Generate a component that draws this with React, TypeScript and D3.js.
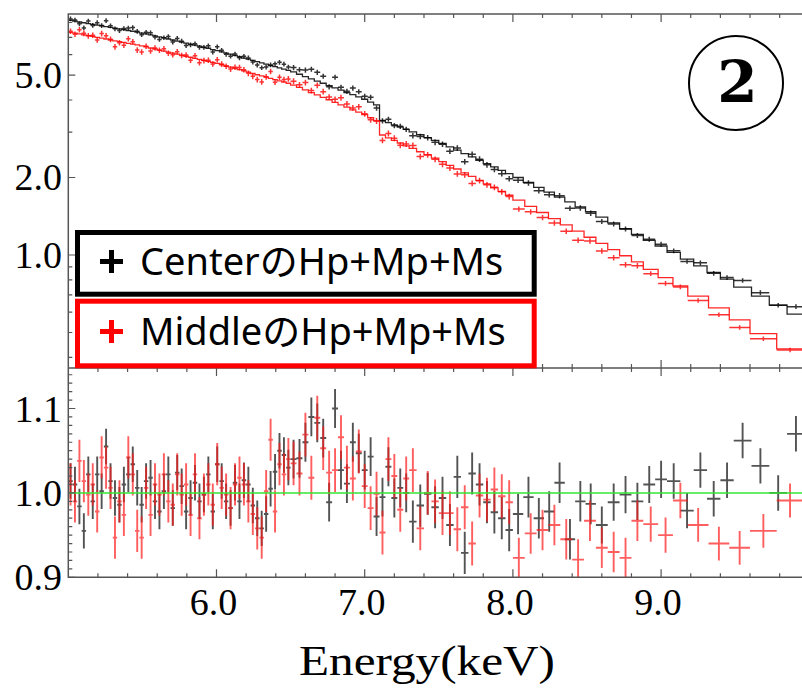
import React from 'react';
import * as d3 from 'd3';

// ---- Binning of the two spectra: [start keV, end keV, bin width keV]
const centerSegments: number[][] = [
  [5.0, 6.5, 0.03], [6.5, 7.3, 0.04], [7.3, 8.0, 0.05], [8.0, 8.56, 0.07],
  [8.56, 9.04, 0.08], [9.04, 9.49, 0.09], [9.49, 9.97, 0.12],
];
const middleSegments: number[][] = [
  [5.0, 6.5, 0.03], [6.5, 7.3, 0.04], [7.3, 8.0, 0.05], [8.0, 8.88, 0.08],
  [8.88, 9.18, 0.1], [9.18, 9.6, 0.14], [9.6, 9.96, 0.18],
];

// relative 1-sigma error per segment
const centerErr = [0.021, 0.023, 0.025, 0.024, 0.022, 0.021, 0.021];
const middleErr = [0.025, 0.026, 0.026, 0.024, 0.021, 0.02, 0.02];

// model (log10 of counts) per bin
const centerModelLog = [
  0.911, 0.908, 0.905, 0.902, 0.899, 0.896, 0.893, 0.890, 0.887, 0.884,
  0.881, 0.878, 0.875, 0.872, 0.869, 0.866, 0.862, 0.859, 0.855, 0.851,
  0.847, 0.843, 0.839, 0.835, 0.831, 0.827, 0.823, 0.819, 0.815, 0.811,
  0.807, 0.803, 0.798, 0.794, 0.789, 0.784, 0.780, 0.775, 0.770, 0.765,
  0.761, 0.756, 0.751, 0.746, 0.741, 0.736, 0.732, 0.727, 0.722, 0.717,
  0.711, 0.702, 0.693, 0.684, 0.675, 0.667, 0.658, 0.649, 0.640, 0.631,
  0.623, 0.614, 0.605, 0.594, 0.583, 0.523, 0.514, 0.505, 0.497, 0.488,
  0.478, 0.467, 0.456, 0.445, 0.433, 0.420, 0.407, 0.394, 0.381, 0.368,
  0.355, 0.342, 0.329, 0.316,
  0.301, 0.282, 0.263, 0.244, 0.225, 0.206, 0.187, 0.168,
  0.147, 0.125, 0.102, 0.080, 0.057, 0.035,
  0.010, -0.016, -0.042, -0.068, -0.094,
  -0.125, -0.160, -0.195, -0.230,
];
const middleModelLog = [
  0.865, 0.862, 0.859, 0.855, 0.852, 0.849, 0.845, 0.842, 0.839, 0.835,
  0.832, 0.829, 0.826, 0.822, 0.819, 0.816, 0.812, 0.808, 0.804, 0.800,
  0.796, 0.792, 0.788, 0.784, 0.780, 0.776, 0.772, 0.768, 0.764, 0.760,
  0.756, 0.752, 0.748, 0.744, 0.739, 0.734, 0.730, 0.725, 0.720, 0.715,
  0.710, 0.705, 0.700, 0.696, 0.691, 0.686, 0.681, 0.676, 0.672, 0.667,
  0.660, 0.651, 0.641, 0.631, 0.622, 0.612, 0.603, 0.593, 0.583, 0.574,
  0.564, 0.555, 0.545, 0.533, 0.521, 0.466, 0.455, 0.445, 0.435, 0.424,
  0.414, 0.401, 0.389, 0.376, 0.363, 0.348, 0.334, 0.319, 0.305, 0.290,
  0.276, 0.261, 0.247, 0.232,
  0.213, 0.189, 0.165, 0.141, 0.117, 0.093, 0.069, 0.045, 0.021, -0.003, -0.027,
  -0.056, -0.088, -0.120,
  -0.160, -0.205, -0.252,
  -0.305, -0.365,
];

// data / model ratio per bin
const centerRatio = [
  1.014, 1.010, 0.984, 0.955, 1.022, 0.990, 1.022, 1.002, 1.055, 1.014,
  0.994, 0.986, 1.010, 1.022, 1.034, 1.006, 0.986, 1.014, 1.018, 0.990,
  0.978, 1.002, 1.022, 0.982, 1.024, 1.008, 0.978, 0.994, 1.012, 0.990,
  0.998, 1.022, 0.978, 1.034, 1.014, 0.990, 0.982,
  1.012, 0.990, 1.015, 1.010, 0.985, 0.970, 0.958, 0.975, 1.005, 1.025, 1.050, 1.045, 1.030,
  1.040, 1.041, 1.060, 1.090, 1.083, 1.065, 0.989, 1.100, 1.027, 1.011,
  1.060, 1.047, 1.027, 1.043, 0.972, 0.995, 1.031, 0.994, 1.006, 1.000,
  0.966, 0.985, 0.999, 0.983, 0.994, 0.962, 1.019, 0.929, 1.023, 1.010, 0.989, 0.977, 0.970, 0.956,
  0.975, 0.995, 0.970, 0.978, 1.012, 0.945, 0.990, 0.987,
  0.962, 0.989, 0.998, 0.990, 1.010, 1.016,
  1.014, 0.979, 1.027, 0.993, 1.015,
  1.062, 1.032, 1.000, 1.070,
];
const middleRatio = [
  1.010, 0.990, 1.038, 1.014, 0.998, 1.010, 0.978, 1.042, 1.030, 1.006,
  0.947, 0.990, 0.974, 1.042, 1.022, 0.955, 0.947, 1.006, 0.974, 1.010,
  0.998, 1.022, 0.990, 0.986, 1.022, 0.998, 1.010, 0.974, 1.022, 0.970,
  0.998, 1.010, 0.986, 1.034, 1.006, 0.998, 0.982,
  1.010, 1.018, 1.010, 0.990, 0.975, 0.958, 0.947, 1.002, 1.063, 0.978, 1.034, 1.022, 1.040,
  1.035, 1.023, 1.069, 1.018, 1.089, 1.053, 1.024, 1.027, 1.066, 1.030,
  1.017, 1.049, 1.008, 0.982, 0.999, 0.953, 1.040, 1.020, 0.980, 1.017,
  1.027, 0.958, 1.000, 0.990, 0.976, 0.976, 0.957, 0.983, 0.940, 0.997, 0.992, 1.004, 0.996, 0.989,
  0.923, 0.952, 0.956, 0.962, 0.945, 0.921, 0.967, 0.935, 0.930, 0.923, 0.967,
  0.963, 0.950, 0.991,
  0.962, 0.940, 0.935,
  0.955, 0.991,
];

const xTickLabels = ['6.0', '7.0', '8.0', '9.0'];
const topTickLabels = ['1.0', '2.0', '5.0'];
const bottomTickLabels = ['0.9', '1.0', '1.1'];
const legendLabels = ['CenterのHp+Mp+Ms', 'MiddleのHp+Mp+Ms'];

type Bin = { lo: number; hi: number; mid: number; model: number; ratio: number; err: number };

function buildBins(segments: number[][], logModel: number[], ratio: number[], errs: number[]): Bin[] {
  const bins: Bin[] = [];
  let i = 0;
  segments.forEach(([s, e, w], si) => {
    const n = Math.round((e - s) / w);
    for (let k = 0; k < n; k++) {
      const lo = s + k * w;
      const hi = k === n - 1 ? e : s + (k + 1) * w;
      bins.push({ lo, hi, mid: (lo + hi) / 2, model: Math.pow(10, logModel[i]), ratio: ratio[i], err: errs[si] });
      i++;
    }
  });
  return bins;
}

const W = 802, H = 689;
const L = 68.3, R = 809.3, T = 14, MID = 368, B = 577.3;

export default function App() {
  const x = d3.scaleLinear().domain([5, 10]).range([L, R]);
  const yTop = d3.scaleLog().domain([0.364, 8.63]).range([MID, T]);
  const yBot = d3.scaleLinear().domain([0.9, 1.148]).range([B, MID]);

  const center = buildBins(centerSegments, centerModelLog, centerRatio, centerErr);
  const middle = buildBins(middleSegments, middleModelLog, middleRatio, middleErr);

  const stepLine = (bins: Bin[]) => {
    const pts: [number, number][] = bins.map((b) => [b.lo, b.model]);
    pts.push([bins[bins.length - 1].hi, bins[bins.length - 1].model]);
    return d3.line<[number, number]>().x((d) => x(d[0])).y((d) => yTop(d[1])).curve(d3.curveStepAfter)(pts) || '';
  };

  const crossesTop = (bins: Bin[]) =>
    bins.map((b) => {
      const v = b.model * b.ratio;
      const yc = yTop(v);
      return `M${x(b.lo)},${yc}H${x(b.hi)}M${x(b.mid)},${yTop(v * (1 + b.err))}V${yTop(v * (1 - b.err))}`;
    }).join('');

  const crossesBot = (bins: Bin[]) =>
    bins.map((b) => {
      const yc = yBot(b.ratio);
      return `M${x(b.lo)},${yc}H${x(b.hi)}M${x(b.mid)},${yBot(b.ratio + b.err)}V${yBot(b.ratio - b.err)}`;
    }).join('');

  const axisColor = '#555';
  const xMinor = d3.range(5.2, 10.0, 0.2).map((v) => Math.round(v * 10) / 10);
  const isMajorX = (v: number) => Math.abs(v - Math.round(v)) < 1e-6;

  const topMinorVals = [0.4, 0.5, 0.6, 0.7, 0.8, 0.9, 3, 4, 6, 7, 8];
  const topMajorVals = topTickLabels.map(Number);
  const botVals = d3.range(0, 25).map((k) => Math.round((0.9 + k * 0.01) * 1000) / 1000);

  const tickPaths: string[] = [];
  xMinor.forEach((v) => {
    const len = isMajorX(v) ? 8 : 4;
    const px = x(v);
    tickPaths.push(`M${px},${T}v${len}`);
    tickPaths.push(`M${px},${MID}v${-len}`);
    tickPaths.push(`M${px},${MID}v${len}`);
    tickPaths.push(`M${px},${B}v${-len}`);
  });
  topMinorVals.forEach((v) => tickPaths.push(`M${L},${yTop(v)}h4`));
  topMajorVals.forEach((v) => tickPaths.push(`M${L},${yTop(v)}h7`));
  botVals.forEach((v) => {
    const major = Math.abs(v * 10 - Math.round(v * 10)) < 1e-6;
    tickPaths.push(`M${L},${yBot(v)}h${major ? 7 : 4}`);
  });

  const serif = "'Liberation Serif', 'Times New Roman', serif";
  const sans = "'Noto Sans', 'Noto Sans CJK JP', sans-serif";

  return (
    <svg width={W} height={H} viewBox={`0 0 ${W} ${H}`} style={{ position: 'absolute', left: 0, top: 0, background: '#fff' }}>
      <defs>
        <clipPath id="clipTop"><rect x={L} y={T} width={R - L} height={MID - T} /></clipPath>
        <clipPath id="clipBot"><rect x={L} y={MID} width={R - L} height={B - MID} /></clipPath>
      </defs>
      <rect x={0} y={0} width={W} height={H} fill="#fff" />

      {/* top panel */}
      <g clipPath="url(#clipTop)" fill="none">
        <path d={crossesTop(center)} stroke="#000" strokeWidth={1.5} strokeOpacity={0.8} />
        <path d={crossesTop(middle)} stroke="#ff0000" strokeWidth={1.5} strokeOpacity={0.8} />
        <path d={stepLine(center)} stroke="#000" strokeWidth={1.3} strokeOpacity={0.85} />
        <path d={stepLine(middle)} stroke="#ff0000" strokeWidth={1.3} strokeOpacity={0.85} />
      </g>

      {/* bottom panel */}
      <g clipPath="url(#clipBot)" fill="none">
        <path d={crossesBot(center)} stroke="#1a1a1a" strokeWidth={1.9} strokeOpacity={0.75} />
        <path d={crossesBot(middle)} stroke="#ff1a1a" strokeWidth={1.9} strokeOpacity={0.7} />
        <line x1={L} x2={R} y1={yBot(1)} y2={yBot(1)} stroke="#33e633" strokeWidth={1.5} />
      </g>

      {/* frames and ticks */}
      <g fill="none" stroke={axisColor} strokeWidth={1.5}>
        <path d={`M${R},${T}H${L}V${B}H${R}`} />
        <path d={`M${L},${MID}H${R}`} />
        <path d={tickPaths.join('')} strokeWidth={1.2} />
      </g>

      {/* tick labels */}
      <g fontFamily={serif} fontSize={38} fill="#000" textAnchor="end">
        {topTickLabels.map((t) => (
          <text key={'t' + t} x={62} y={yTop(Number(t)) + 13}>{t}</text>
        ))}
        {bottomTickLabels.map((t) => (
          <text key={'b' + t} x={62} y={yBot(Number(t)) + 13}>{t}</text>
        ))}
      </g>
      <g fontFamily={serif} fontSize={38} fill="#000" textAnchor="middle">
        {xTickLabels.map((t) => (
          <text key={'x' + t} x={x(Number(t)) - 3} y={615}>{t}</text>
        ))}
        <text x={427} y={675} fontSize={42} textLength={256} lengthAdjust="spacingAndGlyphs">Energy(keV)</text>
      </g>

      {/* legend */}
      <rect x={77.5} y={232.5} width={456.7} height={61.7} fill="#fff" stroke="#000" strokeWidth={5} />
      <rect x={77.5} y={301.2} width={456.7} height={64.6} fill="#fff" stroke="#ff0000" strokeWidth={5} />
      <path d="M100,261.5H123M111.5,250V273" stroke="#000" strokeWidth={5} />
      <path d="M100,331.5H123M111.5,320V343" stroke="#ff0000" strokeWidth={5} />
      <text x={140} y={275} fontFamily={sans} fontSize={38} fill="#000">{legendLabels[0]}</text>
      <text x={140} y={345} fontFamily={sans} fontSize={38} fill="#000">{legendLabels[1]}</text>

      {/* panel marker */}
      <circle cx={736} cy={83} r={47} fill="none" stroke="#000" strokeWidth={2} />
      <text x={737.5} y={102} fontFamily="'DejaVu Serif', serif" fontWeight="bold" fontSize={58} textAnchor="middle" fill="#000">2</text>
    </svg>
  );
}
